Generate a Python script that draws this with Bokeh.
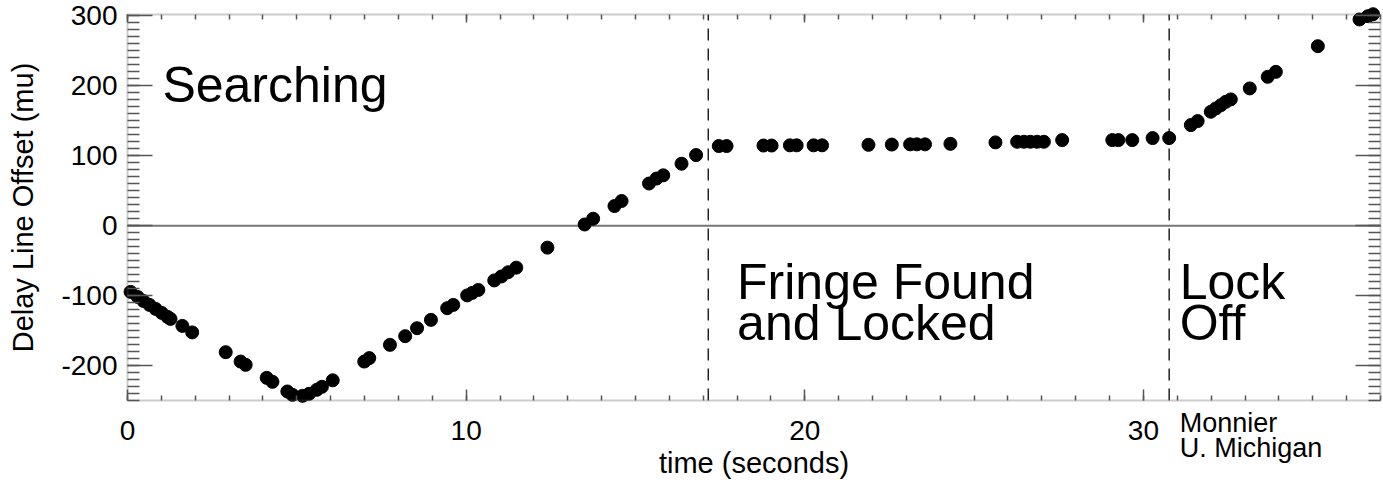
import math
from bokeh.plotting import figure
from bokeh.models import (Range1d, LinearAxis, SingleIntervalTicker, Label, BoxAnnotation,
                          CustomJSTickFormatter)
from bokeh.embed import file_html
from bokeh.resources import INLINE

# time (seconds)
time_s = [0.09, 0.30, 0.47, 0.65, 0.83, 1.01, 1.18, 1.27, 1.62, 1.91, 2.90, 3.34, 3.49, 4.11, 4.28,
          4.72, 4.87, 5.17, 5.36, 5.59, 5.74, 6.06,
          6.99, 7.14, 7.75, 8.20, 8.55, 8.96, 9.44, 9.62, 10.03, 10.18, 10.36, 10.83, 11.04, 11.24,
          11.48, 12.40, 13.50, 13.75, 14.38, 14.59, 15.40, 15.62, 15.82, 16.36, 16.79,
          17.46, 17.69, 18.78, 19.02, 19.56, 19.76, 20.26, 20.51, 21.88, 22.57, 23.11, 23.31, 23.55,
          24.30, 25.63, 26.27, 26.47, 26.66, 26.86, 27.06, 27.60, 29.08, 29.26, 29.67, 30.27, 30.76,
          31.40, 31.60, 31.99, 32.14, 32.29, 32.43, 32.58, 33.14, 33.67, 33.91, 35.15, 36.38, 36.63, 36.78]

# delay line offset (mu)
offset_mu = [-94.7, -101.9, -107.6, -113.3, -119.0, -124.7, -130.4, -133.3, -143.3, -152.6, -180.9,
             -194.3, -199.0, -217.6, -223.3, -237.1, -241.9, -243.3, -240.4, -234.7, -230.4, -221.1,
             -194.3, -189.4, -170.4, -158.0, -146.6, -134.7, -118.0, -113.3, -99.7, -96.1, -91.9,
             -78.3, -72.6, -66.6, -60.0, -31.4, 1.7, 10.0, 28.1, 35.3, 60.3, 67.4, 72.0, 88.6, 101.0,
             113.9, 113.9, 114.6, 114.6, 114.9, 114.9, 114.9, 114.9, 115.6, 116.0, 116.3, 116.3, 116.3,
             117.0, 119.1, 120.0, 120.0, 120.0, 120.0, 120.0, 122.4, 122.4, 122.4, 122.4, 125.3, 125.3,
             143.9, 149.6, 162.9, 167.7, 172.4, 177.1, 180.6, 196.3, 212.9, 220.0, 256.7, 294.9, 299.6, 302.4]

# phase boundaries (seconds)
phase_edges = [17.15, 30.76]

# axis limits of the plot box
X_LO, X_HI = 0, 37
Y_LO, Y_HI = -250, 302

FONT = "Liberation Sans"
W, H = 1383, 484
PAD_L, PAD_R, PAD_T, PAD_B = 127, 3, 14, 84   # pixel room around the plot box

ux = (X_HI - X_LO) / (W - PAD_L - PAD_R)
uy = (Y_HI - Y_LO) / (H - PAD_T - PAD_B)

p = figure(width=W, height=H,
           x_range=Range1d(X_LO - PAD_L * ux, X_HI + PAD_R * ux),
           y_range=Range1d(Y_LO - PAD_B * uy, Y_HI + PAD_T * uy),
           output_backend="svg", toolbar_location=None,
           min_border_left=0, min_border_right=0, min_border_top=0, min_border_bottom=0,
           background_fill_color="white", border_fill_color="white",
           x_axis_location=None, y_axis_location=None)

p.grid.visible = False
p.outline_line_color = None

plain = CustomJSTickFormatter(code="return String(tick)")
blank = CustomJSTickFormatter(code="return ''")

def make_axis(place, loc, interval, bounds, major_in, minor_in, labels):
    ax = LinearAxis(ticker=SingleIntervalTicker(interval=interval, num_minor_ticks=10),
                    fixed_location=loc, bounds=bounds)
    ax.axis_line_color = None
    ax.major_tick_in = major_in
    ax.major_tick_out = 0
    ax.minor_tick_in = minor_in
    ax.minor_tick_out = 0
    ax.major_tick_line_color = "#555555"
    ax.minor_tick_line_color = "#555555"
    ax.major_tick_line_width = 1.5
    ax.minor_tick_line_width = 1.5
    ax.major_label_text_font = FONT
    ax.major_label_text_color = "black"
    ax.major_label_text_font_size = "28px"
    ax.axis_label_text_font = FONT
    ax.axis_label_text_font_style = "normal"
    ax.axis_label_text_font_size = "29px"
    ax.axis_label_text_color = "black"
    ax.formatter = plain if labels else blank
    if not labels:
        ax.major_label_standoff = 0
    p.add_layout(ax, place)
    return ax

xb = make_axis("below", Y_LO, 10, (X_LO, X_HI), 11, 5, True)
xb.major_label_standoff = 20
xb.axis_label = "time (seconds)"
xb.axis_label_standoff = 4

yl = make_axis("left", X_LO, 100, (Y_LO, Y_HI), 25, 12, True)
yl.major_label_standoff = 10
yl.axis_label = "Delay Line Offset (mu)"
yl.axis_label_standoff = 19

make_axis("above", Y_HI, 10, (X_LO, X_HI), 8, 5, False)
make_axis("right", X_HI, 100, (Y_LO, Y_HI), 25, 12, False)

# plot box
p.add_layout(BoxAnnotation(left=X_LO, right=X_HI, bottom=Y_LO, top=Y_HI,
                           fill_color=None, line_color="#555555", line_width=2))

# zero line and phase boundaries
p.segment(x0=[X_LO], y0=[0], x1=[X_HI], y1=[0], line_color="#777777", line_width=2)
p.segment(x0=phase_edges, y0=[Y_LO] * len(phase_edges), x1=phase_edges,
          y1=[Y_HI] * len(phase_edges), line_color="#222222", line_width=1.5, line_dash="12 8")

p.scatter(time_s, offset_mu, size=13, color="black", marker="circle")

def lab(x, y, text, size):
    p.add_layout(Label(x=x, y=y, text=text, text_font=FONT, text_font_size=size,
                       text_color="black", text_baseline="alphabetic", text_align="left"))

lab(1.03, 201, "Searching", "50px")
lab(18.0, -80, "Fringe Found", "50px")
lab(18.0, -139, "and Locked", "50px")
lab(31.07, -80, "Lock", "50px")
lab(31.07, -139.5, "Off", "50px")
lab(31.07, -282, "Monnier", "27px")
lab(31.07, -318, "U. Michigan", "27px")

open("out.html", "w").write(file_html(p, INLINE))
